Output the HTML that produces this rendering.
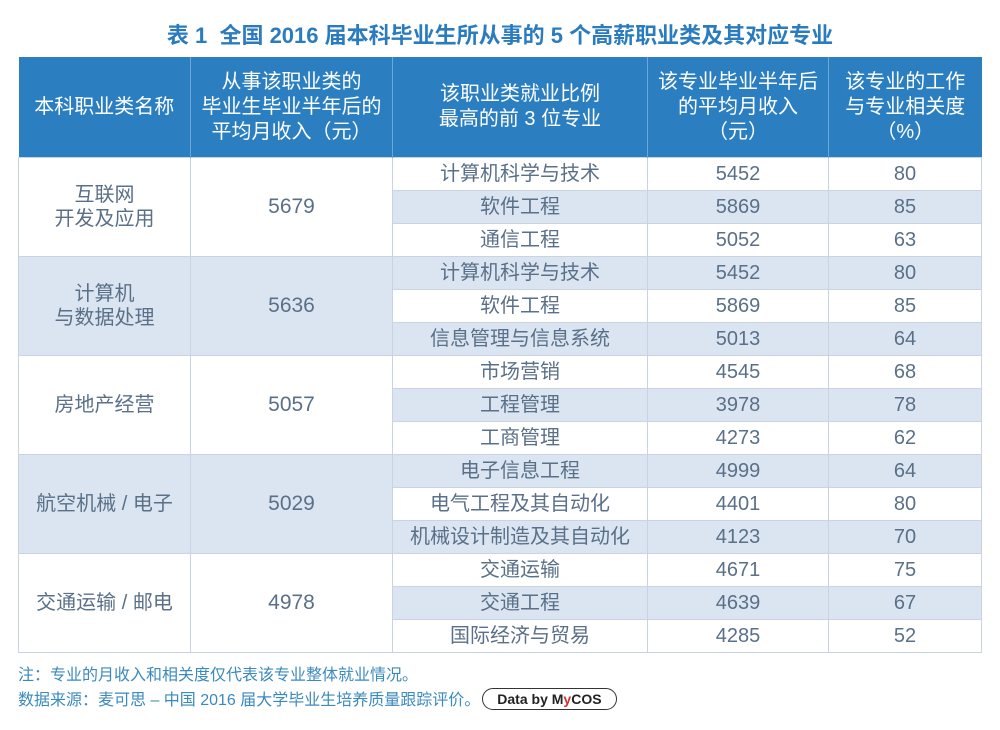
<!DOCTYPE html>
<html><head><meta charset="utf-8"><style>
body{margin:0;width:1000px;height:730px;background:#fff;font-family:"Liberation Sans","Noto Sans CJK SC",sans-serif;position:relative;overflow:hidden}
.title{position:absolute;top:18px;left:0;width:1000px;text-align:center;font-size:22px;font-weight:bold;color:#2a7cbf}
table{position:absolute;left:18px;top:57px;border-collapse:collapse;width:963px;table-layout:fixed}
th{background:#2b7fc1;color:#fff;font-weight:normal;font-size:20px;line-height:25px;height:100px;border-left:1px solid #6aa6d6;padding:0}
th:first-child{border-left:none}
td{height:32px;border:1px solid #c9d3e2;text-align:center;font-size:20px;color:#5a7088;padding:0;line-height:24px}
.b{background:#dbe5f2}
.n{font-size:21px}
.note{position:absolute;left:18px;font-size:16px;color:#3a8abd}
.tag{display:inline-block;border:1px solid #333;border-radius:11px;padding:2px 14px;font-size:14px;font-weight:bold;color:#222;vertical-align:1px;margin-left:2px}
</style></head><body>
<div class="title">表 1&nbsp; 全国 2016 届本科毕业生所从事的 5 个高薪职业类及其对应专业</div>
<table>
<colgroup><col style="width:172px"><col style="width:202px"><col style="width:255px"><col style="width:181px"><col style="width:153px"></colgroup>
<tr><th>本科职业类名称</th><th>从事该职业类的<br>毕业生毕业半年后的<br>平均月收入（元）</th><th>该职业类就业比例<br>最高的前 3 位专业</th><th>该专业毕业半年后<br>的平均月收入<br>（元）</th><th>该专业的工作<br>与专业相关度<br>（%）</th></tr>
<tr><td rowspan="3">互联网<br>开发及应用</td><td rowspan="3" class="n">5679</td><td>计算机科学与技术</td><td>5452</td><td>80</td></tr>
<tr class="b"><td>软件工程</td><td>5869</td><td>85</td></tr>
<tr><td>通信工程</td><td>5052</td><td>63</td></tr>
<tr class="b"><td rowspan="3">计算机<br>与数据处理</td><td rowspan="3" class="n">5636</td><td>计算机科学与技术</td><td>5452</td><td>80</td></tr>
<tr><td>软件工程</td><td>5869</td><td>85</td></tr>
<tr class="b"><td>信息管理与信息系统</td><td>5013</td><td>64</td></tr>
<tr><td rowspan="3">房地产经营</td><td rowspan="3" class="n">5057</td><td>市场营销</td><td>4545</td><td>68</td></tr>
<tr class="b"><td>工程管理</td><td>3978</td><td>78</td></tr>
<tr><td>工商管理</td><td>4273</td><td>62</td></tr>
<tr class="b"><td rowspan="3">航空机械 / 电子</td><td rowspan="3" class="n">5029</td><td>电子信息工程</td><td>4999</td><td>64</td></tr>
<tr><td>电气工程及其自动化</td><td>4401</td><td>80</td></tr>
<tr class="b"><td>机械设计制造及其自动化</td><td>4123</td><td>70</td></tr>
<tr><td rowspan="3">交通运输 / 邮电</td><td rowspan="3" class="n">4978</td><td>交通运输</td><td>4671</td><td>75</td></tr>
<tr class="b"><td>交通工程</td><td>4639</td><td>67</td></tr>
<tr><td>国际经济与贸易</td><td>4285</td><td>52</td></tr>
</table>
<div class="note" style="top:661px">注：专业的月收入和相关度仅代表该专业整体就业情况。</div>
<div class="note" style="top:686px">数据来源：麦可思 – 中国 2016 届大学毕业生培养质量跟踪评价。<span class="tag">Data by <span style="color:#222">M</span><span style="color:#c33">y</span>COS</span></div>
</body></html>
